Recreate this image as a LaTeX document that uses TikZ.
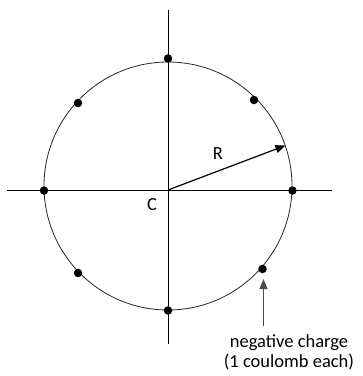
\documentclass[tikz,border=0pt]{standalone}
\usepackage{fontspec}
\setmainfont{Carlito}
\usetikzlibrary{arrows.meta}
\begin{document}
\begin{tikzpicture}[x=1pt,y=-1pt,
  axis/.style={line width=0.8pt,black},
  ring/.style={line width=0.8pt,black!85},
  charge/.style={circle,fill=black,inner sep=0pt,minimum size=8.5pt},
  lbl/.style={font=\fontsize{18.5}{20.5}\selectfont,inner sep=0pt},
  arr/.style={line width=1.2pt,-{Triangle[length=10pt,width=8pt]}}]
\useasboundingbox (0,0) rectangle (363,376);
\coordinate (C) at (168,190);
\coordinate (top) at (168,10);
\coordinate (bot) at (168,344);
\coordinate (lft) at (7,190);
\coordinate (rgt) at (332,190);
\draw[axis] (top) -- (bot);
\draw[axis] (lft) -- (rgt);
\draw[ring] (168,186) circle (124);
\node[charge] (q1) at (168,58.5) {};
\node[charge] (q2) at (254,100) {};
\node[charge] (q3) at (292.5,190.5) {};
\node[charge] (q4) at (262.5,269) {};
\node[charge] (q5) at (168,310.5) {};
\node[charge] (q6) at (78,273) {};
\node[charge] (q7) at (44,190.5) {};
\node[charge] (q8) at (78,103) {};
\coordinate (rtip) at (285.5,145.5);
\draw[arr] (C) -- (rtip);
\node[lbl] (R) at (218,154) {R};
\node[lbl] (Clbl) at (152,205) {C};
\node[lbl,align=center] (txt) at (289,352.5) {negative charge\\(1 coulomb each)};
\coordinate (ntip) at (263.5,279);
\draw[arr,black!70] (263.5,326) -- (ntip);
\end{tikzpicture}
\end{document}
